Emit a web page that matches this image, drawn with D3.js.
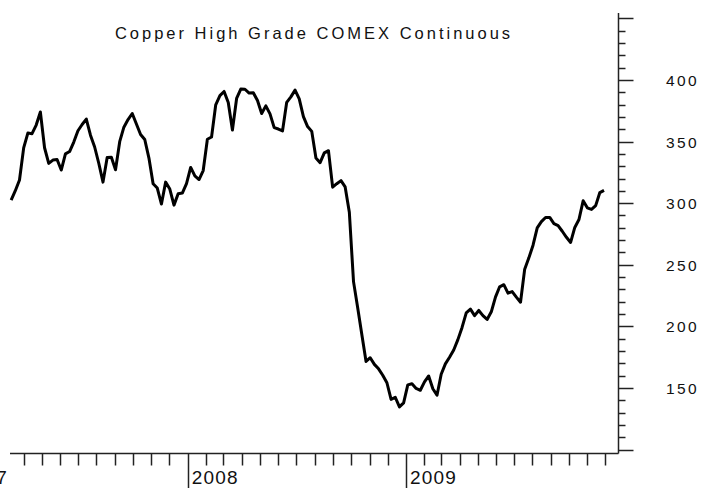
<!DOCTYPE html>
<html>
<head>
<meta charset="utf-8">
<script src="https://cdn.jsdelivr.net/npm/d3@7/dist/d3.min.js"></script>
<style>
  html, body { margin: 0; padding: 0; background: #fff; }
  svg { display: block; font-family: "Liberation Sans", Arial, sans-serif; }
</style>
</head>
<body>
<div id="chart"></div>
<script>
// weekly closes, cents per pound, starting at firstWeek
const firstWeek = "2007-03-11";
const weeklyClose = [
  302.5, 310.1, 318.8, 344.9, 356.9, 356.4, 363.4, 374.0, 345.0, 332.3,
  335.0, 335.4, 326.9, 340.0, 341.9, 349.6, 358.8, 363.9, 368.3, 355.2,
  345.6, 332.2, 317.1, 337.1, 337.2, 327.1, 349.9, 361.7, 367.9, 372.8,
  364.3, 355.8, 351.7, 336.6, 315.8, 312.3, 299.3, 317.1, 311.5, 298.4,
  307.7, 308.2, 315.9, 329.0, 322.1, 319.2, 326.5, 351.9, 353.7, 379.9,
  387.3, 390.7, 381.8, 359.4, 385.0, 392.6, 392.5, 389.4, 389.7, 383.3,
  372.8, 379.0, 372.5, 361.3, 360.2, 358.7, 381.9, 386.3, 391.8, 384.6,
  370.3, 362.2, 358.3, 336.6, 332.9, 340.9, 342.6, 313.0, 315.8, 318.3,
  313.2, 292.6, 236.3, 215.0, 193.1, 171.5, 174.5, 169.1, 165.5, 160.3,
  154.2, 140.7, 142.4, 134.6, 137.9, 152.5, 153.4, 149.6, 148.1, 154.9,
  159.7, 149.3, 144.1, 161.1, 169.5, 174.9, 180.8, 189.2, 199.1, 210.9,
  214.0, 208.7, 212.9, 208.7, 205.6, 211.8, 223.7, 232.1, 233.8, 226.9,
  228.2, 223.7, 219.6, 246.4, 255.6, 265.9, 279.9, 285.0, 288.4, 288.4,
  283.4, 281.8, 277.2, 272.3, 268.1, 280.3, 286.7, 301.9, 296.2, 294.9,
  298.0, 308.6, 310.4
];
const yearTicks = [2007, 2008, 2009];
const majorTicks = [150, 200, 250, 300, 350, 400];
const chartTitle = "Copper High Grade COMEX Continuous";

const w = 704;
const h = 488;
const axisX = 618.5;   // right price axis
const axisY = 453.5;   // bottom time axis
const plotLeft = 10;

const start = d3.timeParse("%Y-%m-%d")(firstWeek);
const data = weeklyClose.map((v, i) => ({ date: d3.timeDay.offset(start, 7 * i), value: v }));

const svg = d3.select("#chart").append("svg")
  .attr("width", w)
  .attr("height", h);

const x = d3.scaleTime()
  .domain([new Date(2008, 0, 1), new Date(2009, 0, 1)])
  .range([187.7, 406]);

const y = d3.scaleLinear()
  .domain([100, 400])
  .range([449.5, 80]);

// title
svg.append("text")
  .attr("x", 314)
  .attr("y", 39)
  .attr("text-anchor", "middle")
  .attr("font-size", 16.5)
  .attr("letter-spacing", 3)
  .attr("fill", "#111")
  .text(chartTitle);

// bottom axis
svg.append("line")
  .attr("x1", plotLeft).attr("x2", axisX)
  .attr("y1", axisY).attr("y2", axisY)
  .attr("stroke", "#222").attr("stroke-width", 1.5);

const months = d3.timeMonth.range(new Date(2007, 0, 1), new Date(2010, 0, 1))
  .filter(d => d.getMonth() != 0 && x(d) > plotLeft + 4 && x(d) < axisX);

svg.selectAll(".month-tick").data(months).enter()
  .append("line")
  .attr("class", "month-tick")
  .attr("x1", d => Math.round(x(d)) + 0.5)
  .attr("x2", d => Math.round(x(d)) + 0.5)
  .attr("y1", axisY).attr("y2", axisY + 12)
  .attr("stroke", "#222").attr("stroke-width", 1.5);

const years = yearTicks.map(yr => new Date(yr, 0, 1));
svg.selectAll(".year-tick").data(years).enter()
  .append("line")
  .attr("class", "year-tick")
  .attr("x1", d => Math.round(x(d)) + 0.5)
  .attr("x2", d => Math.round(x(d)) + 0.5)
  .attr("y1", axisY).attr("y2", h)
  .attr("stroke", "#222").attr("stroke-width", 1.5);

// a year whose tick falls left of the plot only shows its tail
svg.selectAll(".year-label").data(years).enter()
  .append("text")
  .attr("class", "year-label")
  .attr("x", d => x(d) < 0 ? 8 : x(d) + 4)
  .attr("text-anchor", d => x(d) < 0 ? "end" : "start")
  .attr("y", 484)
  .attr("font-size", 19)
  .attr("letter-spacing", 1.2)
  .attr("fill", "#111")
  .text(d => d.getFullYear());

// right axis
svg.append("line")
  .attr("x1", axisX).attr("x2", axisX)
  .attr("y1", 13).attr("y2", axisY)
  .attr("stroke", "#222").attr("stroke-width", 1.5);

svg.selectAll(".y-tick").data(d3.range(100, 451, 10)).enter()
  .append("line")
  .attr("class", "y-tick")
  .attr("x1", axisX)
  .attr("x2", d => axisX + (d % 50 == 0 ? 15 : 7))
  .attr("y1", d => Math.round(y(d)) + 0.5)
  .attr("y2", d => Math.round(y(d)) + 0.5)
  .attr("stroke", "#222").attr("stroke-width", 1.5);

svg.selectAll(".y-label").data(majorTicks).enter()
  .append("text")
  .attr("class", "y-label")
  .attr("x", 666)
  .attr("y", d => y(d) + 6)
  .attr("font-size", 15.5)
  .attr("letter-spacing", 2.4)
  .attr("fill", "#111")
  .text(d => d);

// price line
const line = d3.line()
  .x(d => x(d.date))
  .y(d => y(d.value));

svg.append("path")
  .datum(data)
  .attr("d", line)
  .attr("fill", "none")
  .attr("stroke", "#000")
  .attr("stroke-width", 3)
  .attr("stroke-linejoin", "round");
</script>
</body>
</html>
